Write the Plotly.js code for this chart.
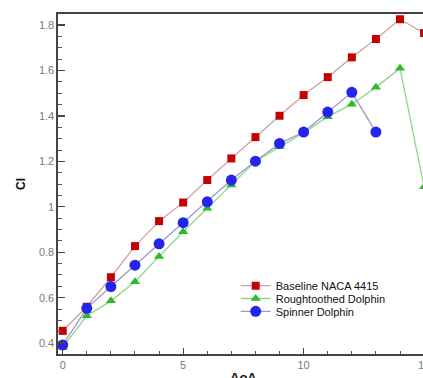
<!DOCTYPE html>
<html>
<head>
<meta charset="utf-8">
<script src="https://cdn.plot.ly/plotly-3.0.1.min.js"></script>
<style>
html,body{margin:0;padding:0;overflow:hidden;background:#fff;width:423px;height:378px;}
#chart{width:460px;height:378px;}
</style>
</head>
<body>
<div id="chart"></div>
<script>
var aoa = [0,1,2,3,4,5,6,7,8,9,10,11,12,13,14,15];
var baseline = [0.454,0.56,0.690,0.827,0.937,1.019,1.118,1.213,1.307,1.401,1.492,1.571,1.658,1.739,1.826,1.765];
var aoaRough = [0,1,2,3,4,5,6,7,8,9,10,11,12,13,14,15];
var rough = [0.381,0.520,0.586,0.670,0.781,0.890,0.994,1.096,1.200,1.264,1.325,1.397,1.452,1.526,1.610,1.088];
var aoaSpinner = [0,1,2,3,4,5,6,7,8,9,10,11,12,13];
var spinner = [0.392,0.553,0.649,0.743,0.837,0.930,1.022,1.118,1.201,1.279,1.329,1.417,1.504,1.329];
var names = ['Baseline NACA 4415','Roughtoothed Dolphin','Spinner Dolphin'];

var traces = [
  {x:aoa, y:baseline, name:names[0], mode:'lines+markers', type:'scatter', legend:'legend',
   line:{color:'#cfa3a3', width:1.3},
   marker:{symbol:'square', size:8, color:'#c40000'}},
  {x:aoaRough, y:rough, name:names[1], mode:'lines+markers', type:'scatter', legend:'legend2',
   line:{color:'#8fd68f', width:1.3},
   marker:{symbol:'triangle-up', size:9, color:'#2dbb2d'}},
  {x:aoaSpinner, y:spinner, name:names[2], mode:'lines+markers', type:'scatter', legend:'legend3',
   line:{color:'#9a9ac4', width:1.3},
   marker:{symbol:'circle', size:11, color:'#2424ee'}}
];

function leg(y){
  return {x:0.442, y:y, xanchor:'left', yanchor:'top', bgcolor:'rgba(0,0,0,0)',
          font:{size:11, color:'#111'}, tracegroupgap:0};
}

var layout = {
  width:460, height:378,
  margin:{l:58, r:0, t:14, b:24, pad:0},
  paper_bgcolor:'#fff', plot_bgcolor:'#fff',
  font:{family:'Liberation Sans, Arial, sans-serif', size:11, color:'#7a7a7a'},
  showlegend:true,
  legend:leg(0.2435),
  legend2:leg(0.2059),
  legend3:leg(0.1682),
  xaxis:{range:[-0.195,16.49], showgrid:false, zeroline:false, showline:true, linecolor:'#444', linewidth:1.6,
         mirror:true, ticks:'inside', tickcolor:'#444', ticklen:6, tickwidth:1.3, dtick:5, tick0:0,
         minor:{ticks:'inside', dtick:1, ticklen:3.5, tickcolor:'#555', tickwidth:1},
         tickfont:{size:11, color:'#7a7a7a'}},
  yaxis:{range:[0.352,1.849], showgrid:false, zeroline:false, showline:true, linecolor:'#444', linewidth:1.6,
         mirror:true, ticks:'inside', tickcolor:'#444', ticklen:7, tickwidth:1.3, dtick:0.2, tick0:0,
         minor:{ticks:'inside', dtick:0.05, ticklen:4, tickcolor:'#555', tickwidth:1},
         tickfont:{size:11, color:'#7a7a7a'}},
  annotations:[
    {text:'<b>Cl</b>', xref:'paper', yref:'paper', x:-0.092, y:0.50, xanchor:'center', yanchor:'middle',
     textangle:-90, showarrow:false, font:{size:12, color:'#111'}},
    {text:'<b>AoA</b>', xref:'paper', yref:'paper', x:0.461, y:-0.040, xanchor:'center', yanchor:'top',
     showarrow:false, font:{size:13, color:'#111'}}
  ]
};
Plotly.newPlot('chart', traces, layout, {displayModeBar:false, staticPlot:true});
</script>
</body>
</html>
